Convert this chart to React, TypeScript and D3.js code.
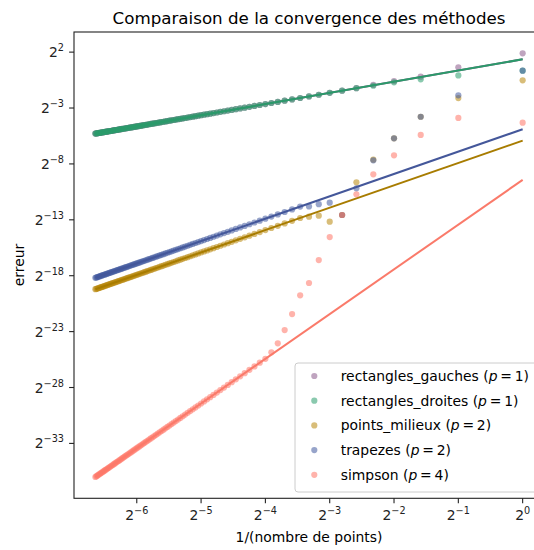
import React from 'react';
import * as d3 from 'd3';

const W = 534;
const H = 550;

// number of points n = 1..100, abscissa is 1/n
const nMax = 100;
const nPoints = d3.range(1, nMax + 1);

const xTickExps = [-6, -5, -4, -3, -2, -1, 0];
const yTickExps = [2, -3, -8, -13, -18, -23, -28, -33];

// log2(error) read for the first n (n = 1, 2, ...); beyond, points sit on the fit line
const gauchesEarly = [1.89, 0.64, -0.2, -0.6, -0.93];
const droitesEarly = [0.34, -0.08, -0.43, -0.7, -1.01];
const milieuxEarly = [-0.52, -2.11, -3.78, -5.71, -7.62, -9.65, -12.57, -13.17, -12.63, -12.72];
const trapezesEarly = [0.34, -1.86, -3.78, -5.71, -7.68, -10.18, -12.57, -11.47, -11.6, -11.8];
const simpsonEarly = [-4.31, -3.89, -5.41, -7.23, -8.93, -10.72, -12.57, -14.54, -16.6, -18.65, -19.75, -21.43, -22.86, -24.05, -24.85];

// fitted lines: log2(C) and order p  (error = C * h^p)
const fitIntercepts = [1.356, 1.356, -5.92, -4.9, -9.43];
const fitOrders = [1, 1, 2, 2, 4];

const names = ['rectangles_gauches', 'rectangles_droites', 'points_milieux', 'trapezes', 'simpson'];
const earlyValues = [gauchesEarly, droitesEarly, milieuxEarly, trapezesEarly, simpsonEarly];
const colors = ['#8a5a8a', '#2a9c6c', '#b8860b', '#41599f', '#ff7466'];
const lineColors = ['#8a5a8a', '#2a9a6a', '#a87c00', '#44579a', '#fa7a6a'];

const FONT = 'DejaVu Sans, sans-serif';

export default function App() {
  const x = d3.scaleLog().base(2).domain([Math.pow(2, -6.976), Math.pow(2, 0.332)]).range([74, 544]);
  const y = d3.scaleLog().base(2).domain([Math.pow(2, -37.91), Math.pow(2, 3.8)]).range([498.3, 32]);

  const series = names.map((name, i) => {
    const pts = nPoints.map((n, k) => {
      const fitV = fitIntercepts[i] - fitOrders[i] * Math.log2(n);
      const v = k < earlyValues[i].length ? earlyValues[i][k] : fitV;
      return { h: 1 / n, e: Math.pow(2, v) };
    });
    const fitLine = [nMax, 1].map((n) => ({ h: 1 / n, e: Math.pow(2, fitIntercepts[i] - fitOrders[i] * Math.log2(n)) }));
    return { name, pts, fitLine, color: colors[i], lineColor: lineColors[i], p: fitOrders[i] };
  });

  const line = d3.line<{ h: number; e: number }>().x((d) => x(d.h)).y((d) => y(d.e));

  const left = 74, right = 544, top = 32, bottom = 498.3;
  const fs = 13.9;

  const legendX = 295, legendY = 363, legendW = 244, legendH = 129;
  const rowY = (i: number) => 376 + i * 24.7;

  return (
    <svg width={W} height={H} style={{ position: 'absolute', left: 0, top: 0, background: '#fff' }} fontFamily={FONT}>
      <rect x={0} y={0} width={W} height={H} fill="#fff" />
      <text x={309} y={23.7} textAnchor="middle" fontSize={16.7} fill="#000">
        Comparaison de la convergence des méthodes
      </text>

      <g>
        {series.map((s) => (
          <g key={s.name}>
            {s.pts.map((d, k) => (
              <circle key={k} cx={x(d.h)} cy={y(d.e)} r={3.1} fill={s.color} fillOpacity={0.55} />
            ))}
            <path d={line(s.fitLine) || ''} fill="none" stroke={s.lineColor} strokeWidth={2} />
          </g>
        ))}
      </g>

      {/* spines */}
      <rect x={left} y={top} width={right - left} height={bottom - top} fill="none" stroke="#222" strokeWidth={1.1} />

      {/* x ticks */}
      {xTickExps.map((e) => {
        const tx = x(Math.pow(2, e));
        return (
          <g key={e}>
            <line x1={tx} x2={tx} y1={bottom} y2={bottom + 4.9} stroke="#222" strokeWidth={1.1} />
            <text x={tx} y={520} textAnchor="middle" fontSize={fs} fill="#222">
              2
              <tspan dy={-6} fontSize={9.7}>{e < 0 ? '\u2212' + Math.abs(e) : String(e)}</tspan>
            </text>
          </g>
        );
      })}

      {/* y ticks */}
      {yTickExps.map((e) => {
        const ty = y(Math.pow(2, e));
        return (
          <g key={e}>
            <line x1={left} x2={left - 4.9} y1={ty} y2={ty} stroke="#222" strokeWidth={1.1} />
            <text x={64} y={ty + 5} textAnchor="end" fontSize={fs} fill="#222">
              2
              <tspan dy={-6} fontSize={9.7}>{e < 0 ? '\u2212' + Math.abs(e) : String(e)}</tspan>
            </text>
          </g>
        );
      })}

      <text x={309} y={542} textAnchor="middle" fontSize={fs} fill="#000">1/(nombre de points)</text>
      <text transform="translate(24,265) rotate(-90)" textAnchor="middle" fontSize={fs} fill="#000">erreur</text>

      {/* legend */}
      <rect x={legendX} y={legendY} width={legendW} height={legendH} rx={3} fill="#fff" fillOpacity={0.8} stroke="#cccccc" strokeWidth={1} />
      {series.map((s, i) => (
        <g key={s.name}>
          <circle cx={314.3} cy={rowY(i)} r={3.1} fill={s.color} fillOpacity={0.55} />
          <text x={340.7} y={rowY(i) + 5} fontSize={fs} fill="#000">
            {s.name} (<tspan fontStyle="italic">p</tspan>{'\u2009=\u2009'}{s.p})
          </text>
        </g>
      ))}
    </svg>
  );
}
